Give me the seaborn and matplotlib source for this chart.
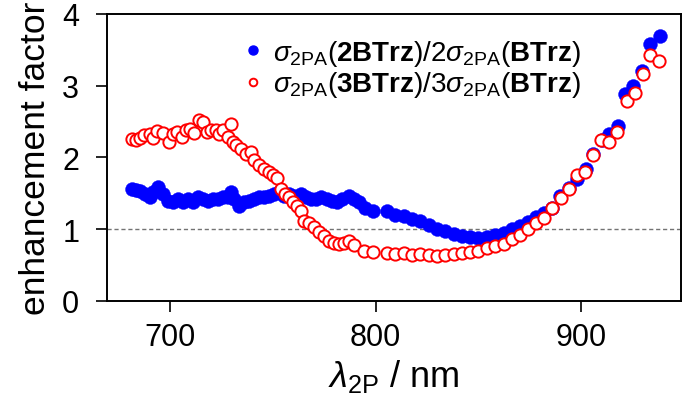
import matplotlib
matplotlib.use("Agg")
import matplotlib.pyplot as plt
import seaborn as sns
import pandas as pd
from matplotlib.lines import Line2D

# ---- data ----
wl_2btrz = [681.4, 683.5, 685.6, 687.9, 690.0, 691.6, 694.0, 696.5, 698.9, 701.3,
            703.7, 706.1, 708.6, 711.0, 713.4, 715.9, 718.3, 720.7, 723.1, 725.6,
            728.0, 729.6, 731.2, 733.7, 736.1, 738.5, 740.9, 743.4, 745.8, 748.2,
            750.6, 753.1, 755.5, 757.9, 760.4, 763.6, 766.0, 768.4, 770.9, 773.3,
            776.5, 778.9, 781.4, 783.8, 787.0, 789.5, 791.9, 795.1, 798.9, 805.7,
            809.7, 813.7, 817.8, 821.8, 825.9, 829.9, 834.0, 838.0, 842.1, 846.1,
            850.1, 854.2, 858.3, 862.3, 866.4, 870.4, 874.4, 878.2, 882.0, 886.0,
            890.0, 894.0, 897.8, 902.2, 906.0, 910.0, 913.5, 918.2, 921.5, 925.5,
            929.8, 933.5, 938.3]
ef_2btrz = [1.56, 1.55, 1.53, 1.49, 1.45, 1.52, 1.59, 1.49, 1.40, 1.38,
            1.42, 1.38, 1.42, 1.38, 1.45, 1.42, 1.40, 1.42, 1.42, 1.45,
            1.45, 1.52, 1.42, 1.33, 1.38, 1.40, 1.42, 1.45, 1.45, 1.47,
            1.49, 1.52, 1.47, 1.49, 1.47, 1.49, 1.45, 1.42, 1.42, 1.45,
            1.42, 1.40, 1.38, 1.42, 1.47, 1.42, 1.38, 1.29, 1.26, 1.25,
            1.20, 1.19, 1.14, 1.11, 1.06, 1.01, 0.98, 0.94, 0.90, 0.89,
            0.88, 0.89, 0.92, 0.95, 1.01, 1.05, 1.10, 1.17, 1.22, 1.30,
            1.46, 1.57, 1.70, 1.84, 2.05, 2.24, 2.33, 2.44, 2.89, 2.99,
            3.21, 3.58, 3.69]

wl_3btrz = [681.4, 683.5, 685.6, 687.5, 690.0, 691.6, 693.7, 696.5, 699.7, 701.3,
            703.4, 705.7, 707.8, 709.9, 711.8, 714.2, 715.9, 718.0, 719.9, 722.3,
            723.9, 725.6, 728.0, 729.6, 730.4, 732.0, 734.5, 736.9, 739.3, 740.9,
            743.4, 745.8, 748.2, 749.9, 751.9, 753.9, 755.8, 757.9, 760.0, 762.0,
            763.6, 765.2, 767.6, 770.0, 772.5, 774.9, 777.3, 779.8, 782.2, 784.6,
            787.0, 789.5, 794.3, 798.9, 805.7, 809.7, 813.7, 817.8, 821.8, 825.9,
            829.9, 834.0, 838.0, 842.1, 846.1, 850.1, 854.2, 858.3, 862.3, 866.4,
            870.4, 874.4, 878.2, 882.0, 886.0, 890.2, 894.0, 898.0, 901.9, 906.0,
            909.7, 913.8, 917.6, 922.2, 926.2, 930.0, 933.8, 937.9]
ef_3btrz = [2.26, 2.24, 2.27, 2.31, 2.33, 2.27, 2.37, 2.34, 2.21, 2.33,
            2.35, 2.28, 2.38, 2.40, 2.34, 2.52, 2.50, 2.36, 2.39, 2.38,
            2.33, 2.38, 2.28, 2.46, 2.22, 2.17, 2.12, 2.05, 2.07, 1.96,
            1.89, 1.84, 1.80, 1.75, 1.71, 1.56, 1.49, 1.45, 1.38, 1.33,
            1.26, 1.12, 1.08, 1.03, 0.96, 0.91, 0.83, 0.81, 0.80, 0.81,
            0.83, 0.78, 0.70, 0.68, 0.67, 0.66, 0.67, 0.64, 0.66, 0.64,
            0.63, 0.64, 0.66, 0.67, 0.68, 0.70, 0.74, 0.77, 0.80, 0.86,
            0.92, 1.01, 1.08, 1.16, 1.29, 1.44, 1.56, 1.76, 1.80, 2.04,
            2.24, 2.21, 2.36, 2.79, 2.90, 3.17, 3.43, 3.34]

label_2 = r"$\sigma_{\mathrm{2PA}}$($\mathbf{2BTrz}$)/2$\sigma_{\mathrm{2PA}}$($\mathbf{BTrz}$)"
label_3 = r"$\sigma_{\mathrm{2PA}}$($\mathbf{3BTrz}$)/3$\sigma_{\mathrm{2PA}}$($\mathbf{BTrz}$)"
xticks = [700, 800, 900]
yticks = [0, 1, 2, 3, 4]

sns.set_theme(style="ticks")
plt.rcParams["font.family"] = ["Liberation Sans", "DejaVu Sans"]
plt.rcParams["text.color"] = "black"
plt.rcParams["axes.labelcolor"] = "black"
plt.rcParams["mathtext.fontset"] = "custom"
plt.rcParams["mathtext.rm"] = "Liberation Sans"
plt.rcParams["mathtext.it"] = "Liberation Sans:italic"
plt.rcParams["mathtext.bf"] = "Liberation Sans:bold"

df2 = pd.DataFrame({"wl": wl_2btrz, "ef": ef_2btrz})
df3 = pd.DataFrame({"wl": wl_3btrz, "ef": ef_3btrz})

fig = plt.figure(figsize=(6.85, 4.02), dpi=100)
ax = fig.add_axes([0.1562, 0.2488, 0.9937 - 0.1562, 0.9627 - 0.2488])

ax.axhline(1, color="0.45", lw=1.0, ls=(0, (3, 2)), zorder=1)

sns.scatterplot(data=df2, x="wl", y="ef", ax=ax, color="#0000ff", s=100,
                edgecolor="#0000ff", linewidth=0.3, marker="o", zorder=2,
                legend=False)
sns.scatterplot(data=df3, x="wl", y="ef", ax=ax, facecolor="white", s=78,
                edgecolor="#ff0000", linewidth=1.4, marker="o", zorder=3,
                legend=False)

ax.set_xlim(669.3, 948.5)
ax.set_ylim(0, 4)
ax.set_xticks(xticks)
ax.set_yticks(yticks)
ax.tick_params(axis="both", labelsize=22, length=8, width=1.2, direction="out",
               colors="black")
ax.tick_params(axis="y", pad=12)
ax.tick_params(axis="x", pad=7)
for sp in ax.spines.values():
    sp.set_visible(True)
    sp.set_linewidth(1.4)
    sp.set_color("black")

ax.set_xlabel(r"$\lambda_{\mathrm{2P}}$ / nm", fontsize=26, labelpad=4,
              color="black")
ax.set_ylabel("enhancement factor", fontsize=25.5, labelpad=7, color="black")

handles = [
    Line2D([], [], ls="none", marker="o", ms=6.5, mfc="#0000ff", mec="#0000ff"),
    Line2D([], [], ls="none", marker="o", ms=5.5, mfc="white", mec="#ff0000", mew=1.4),
]
leg = ax.legend(handles, [label_2, label_3], loc="upper left",
                bbox_to_anchor=(0.22, 0.955), frameon=False, fontsize=20,
                handlelength=0.6, handletextpad=0.45, labelspacing=0.05,
                borderaxespad=0)
for t in leg.get_texts():
    t.set_color("black")

fig.savefig("out.png", dpi=100)
